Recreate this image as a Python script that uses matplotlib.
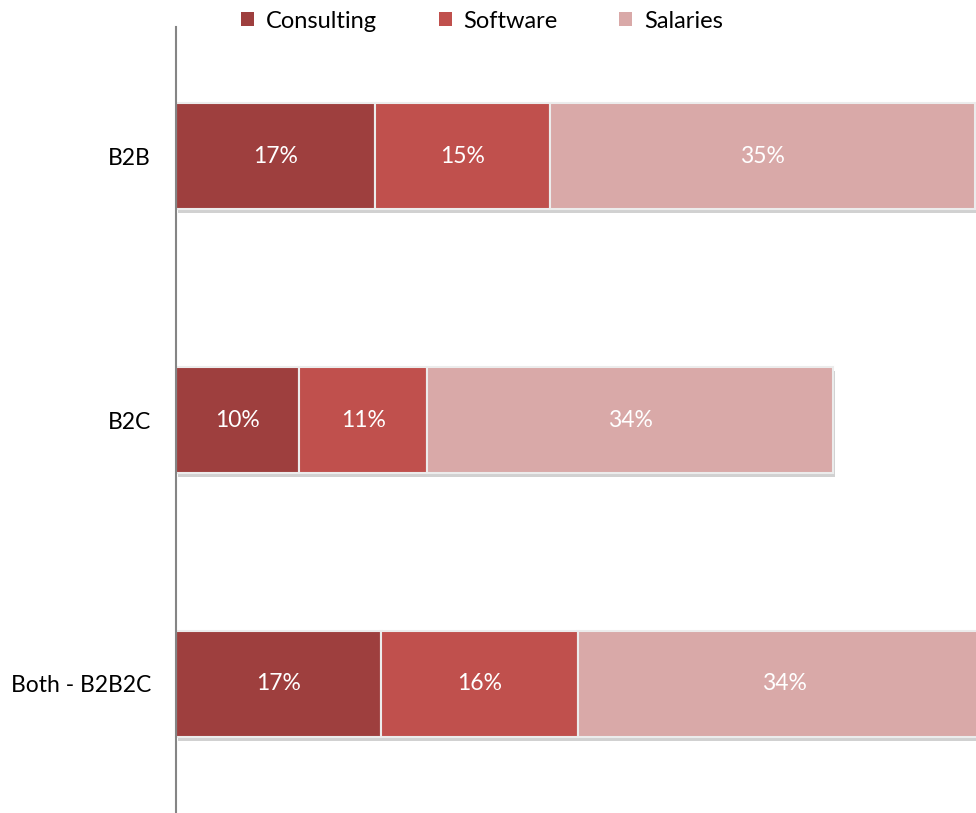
import matplotlib.pyplot as plt
import matplotlib.patheffects as pe
from matplotlib.patches import Patch
import numpy as np

plt.rcParams['font.family'] = ['Lato', 'DejaVu Sans']

# data (percent)
categories = ['B2B', 'B2C', 'Both - B2B2C']
consulting = [16.6, 10.25, 17.1]
software = [14.6, 10.7, 16.4]
salaries = [35.4, 33.8, 34.4]
series_names = ['Consulting', 'Software', 'Salaries']
colors = ['#9e3f3e', '#c0504d', '#d9a9a8']

fig = plt.figure(figsize=(9.76, 8.13), dpi=100)
ax = fig.add_axes([176 / 976, 0, 1 - 176 / 976, (813 - 27) / 813])

y = np.arange(len(categories))
shadow = [pe.SimplePatchShadow(offset=(1.5, -3), shadow_rgbFace='#999999', alpha=0.45), pe.Normal()]

left = np.zeros(len(categories))
for name, vals, col in zip(series_names, [consulting, software, salaries], colors):
    bars = ax.barh(y, vals, left=left, height=0.4, color=col, edgecolor='#ececec',
                   linewidth=1.5, label=name)
    for b in bars:
        b.set_path_effects(shadow)
    for yi, (l, v) in enumerate(zip(left, vals)):
        ax.text(l + v / 2, yi, f'{v:.0f}%', ha='center', va='center',
                color='white', fontsize=16.5)
    left += np.array(vals)

ax.set_xlim(0, 66.7)
ax.set_ylim(2.49, -0.49)
ax.set_yticks(y)
ax.set_yticklabels(categories, fontsize=16.5)
ax.tick_params(axis='y', length=0, pad=18)
ax.set_xticks([])
for s in ['top', 'right', 'bottom']:
    ax.spines[s].set_visible(False)
ax.spines['left'].set_color('#858585')
ax.spines['left'].set_linewidth(1.5)

handles = [Patch(facecolor=c, edgecolor='none') for c in colors]
fig.legend(handles, series_names, loc='center', bbox_to_anchor=(0.494, 0.974), ncol=3,
           frameon=False, fontsize=17, handlelength=0.55, handleheight=0.55,
           handletextpad=0.5, columnspacing=2.6)

fig.savefig('out.png', dpi=100)
